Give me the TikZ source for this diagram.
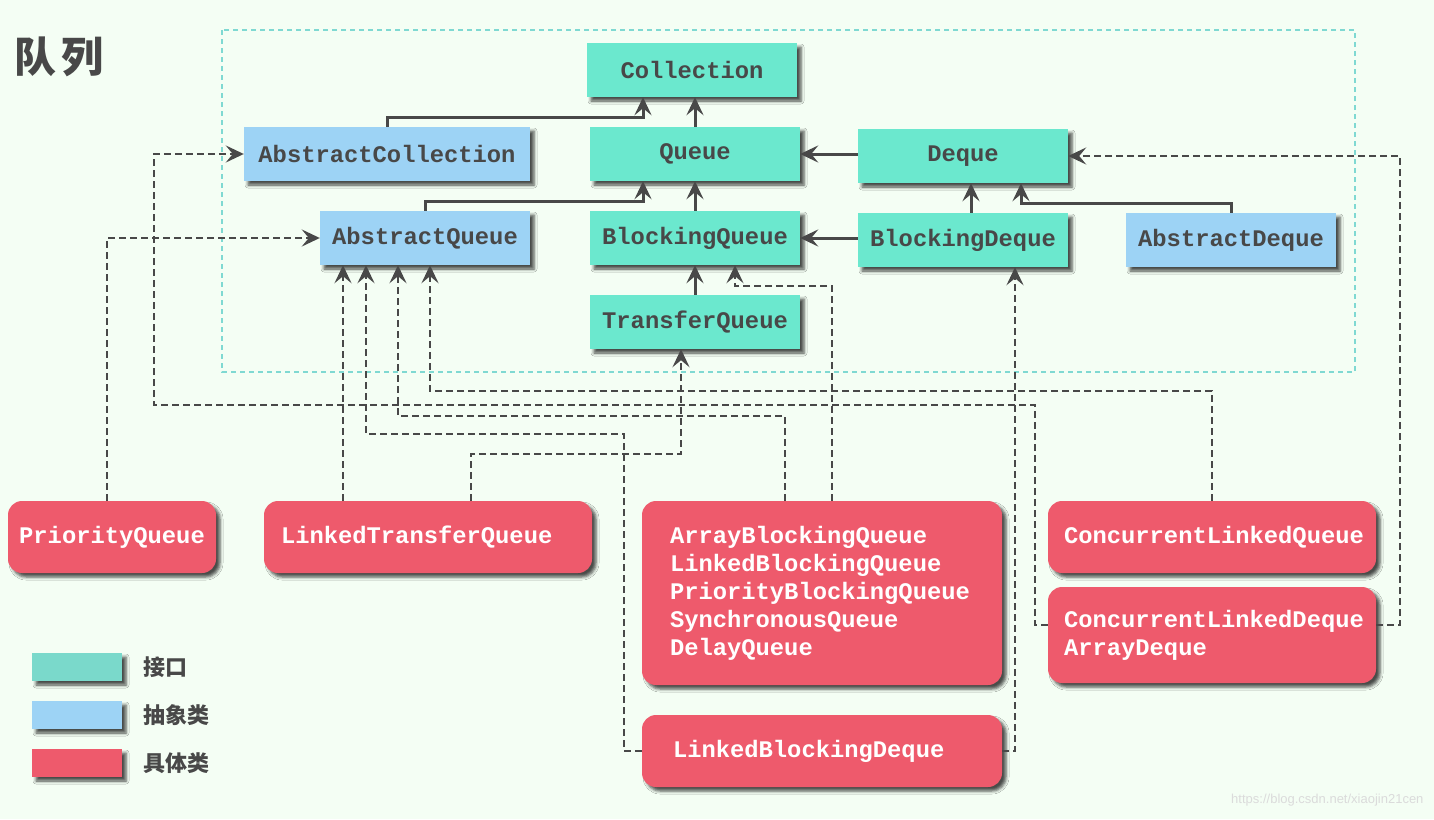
\documentclass[tikz,border=0pt]{standalone}
\usepackage{fontspec}
\setmainfont{Liberation Sans}
\setmonofont{Liberation Mono}
\newfontfamily\cjk{Noto Sans CJK SC}
\usetikzlibrary{arrows.meta, positioning, shadows.blur}

\definecolor{bgmint}{HTML}{F4FEF4}
\definecolor{ifacefill}{HTML}{6BE8CE}
\definecolor{absfill}{HTML}{9DD3F5}
\definecolor{implfill}{HTML}{EE5A6C}
\definecolor{legteal}{HTML}{7AD9CB}
\definecolor{framecol}{HTML}{7FD9D2}
\definecolor{inkgray}{HTML}{484848}

\begin{document}
\begin{tikzpicture}[x=1pt, y=1pt,
    shade box/.style={blur shadow={shadow xshift=4pt, shadow yshift=-4pt,
        shadow blur radius=3pt, shadow opacity=70}},
    box/.style={shade box, minimum height=54pt, inner sep=0pt, text=inkgray,
        font=\fontsize{23.8}{28}\selectfont\ttfamily\bfseries},
    iface/.style={box, fill=ifacefill, minimum width=210pt},
    abscls/.style={box, fill=absfill, minimum width=210pt},
    impl/.style={box, fill=implfill, text=white, rounded corners=14pt,
        minimum height=72pt, align=left},
    extends/.style={draw=inkgray, line width=3pt,
        -{Stealth[length=18pt, width=17pt, inset=7pt]}},
    implements/.style={extends, line width=2.4pt, dash pattern=on 7pt off 4pt},
    keybox/.style={shade box, minimum width=90pt, minimum height=28pt, inner sep=0pt}]
        \useasboundingbox (0,0) rectangle (1434,-819);
        \fill [bgmint] (0,0) rectangle (1434,-819);
        \draw [framecol, line width=2pt, dash pattern=on 5pt off 4pt] (222,-30) rectangle (1355,-372);
        \node [anchor=west, text=inkgray, font=\cjk\bfseries\fontsize{42}{42}\selectfont] (title) at (11,-57) {队\hspace{5pt}列};
        % interfaces and abstract classes
        \node [iface] (coll) at (692,-70) {Collection};
        \node [iface] (queue) at (695,-154) {Queue};
        \node [iface] (deque) at (963,-156) {Deque};
        \node [abscls, minimum width=286pt] (acoll) at (387,-154) {AbstractCollection};
        \node [abscls] (aqueue) at (425,-238) {AbstractQueue};
        \node [iface] (bqueue) at (695,-238) {BlockingQueue};
        \node [iface] (bdeque) at (963,-240) {BlockingDeque};
        \node [abscls] (adeque) at (1231,-240) {AbstractDeque};
        \node [iface] (tqueue) at (695,-322) {TransferQueue};
        % concrete classes
        \node [impl, minimum width=208pt] (pq) at (112,-537) {PriorityQueue};
        \node [impl, text width=294pt, inner xsep=17pt] (ltq) at (428,-537) {LinkedTransferQueue};
        \node [impl, text width=304pt, inner xsep=28pt, minimum height=184pt] (abq) at (822,-593)
            {ArrayBlockingQueue\\LinkedBlockingQueue\\PriorityBlockingQueue\\SynchronousQueue\\DelayQueue};
        \node [impl, text width=298pt, inner xsep=31pt] (lbd) at (822,-751) {LinkedBlockingDeque};
        \node [impl, text width=296pt, inner xsep=16pt] (clq) at (1212,-537) {ConcurrentLinkedQueue};
        \node [impl, text width=296pt, inner xsep=16pt, minimum height=96pt] (cld) at (1212,-635)
            {ConcurrentLinkedDeque\\ArrayDeque};
        % solid arrows
        \draw [extends] (queue.north) -- (queue.north |- coll.south);
        \draw [extends] (acoll.north) -- ++(0,9) -| ([xshift=-49pt]coll.south);
        \draw [extends] (deque.west |- queue.east) -- (queue.east);
        \draw [extends] (bqueue.north) -- (queue.south);
        \draw [extends] (aqueue.north) -- ++(0,9) -| ([xshift=-52pt]queue.south);
        \draw [extends] (bdeque.west |- bqueue.east) -- (bqueue.east);
        \draw [extends] ([xshift=8pt]bdeque.north) -- ([xshift=8pt]bdeque.north |- deque.south);
        \draw [extends] (adeque.north) -- ++(0,9) -| ([xshift=58pt]deque.south);
        \draw [extends] (tqueue.north) -- (bqueue.south);
        % dashed arrows
        \draw [implements] ([xshift=-5pt]pq.north) |- (aqueue.west);
        \draw [implements] ([xshift=-85pt]ltq.north) -- ([xshift=-82pt]aqueue.south);
        \draw [implements] ([xshift=43pt]ltq.north) -- ++(0,47) -| ([xshift=-14pt]tqueue.south);
        \draw [implements] ([xshift=10pt]abq.north) -- ++(0,215) -| ([xshift=40pt]bqueue.south);
        \draw [implements] ([xshift=-37pt]abq.north) -- ++(0,85) -| ([xshift=-27pt]aqueue.south);
        \draw [implements] (lbd.west) -- ++(-18,0) -- ++(0,317) -| ([xshift=-59pt]aqueue.south);
        \draw [implements] (lbd.east) -| ([xshift=52pt]bdeque.south);
        \draw [implements] (clq.north) -- ++(0,110) -| ([xshift=5pt]aqueue.south);
        \draw [implements] ([yshift=10pt]cld.west) -- ++(-13,0) -- ++(0,220) -- ++(-881,0) |- (acoll.west);
        \draw [implements] ([yshift=10pt]cld.east) -- ++(24,0) |- (deque.east);
        % legend
        \foreach \c/\t [count=\i] in {legteal/接口, absfill/抽象类, implfill/具体类} {
            \node [keybox, fill=\c] (key\i) at (77,{-619-48*\i}) {};
            \node [right=18pt of key\i, text=inkgray, font=\cjk\bfseries\fontsize{22}{22}\selectfont] (keytext\i) {\t};
        }
        \node [anchor=east, text=black!14, font=\fontsize{13}{13}\selectfont] (mark) at (1427,-800) {https://blog.csdn.net/xiaojin21cen};
\end{tikzpicture}
\end{document}
